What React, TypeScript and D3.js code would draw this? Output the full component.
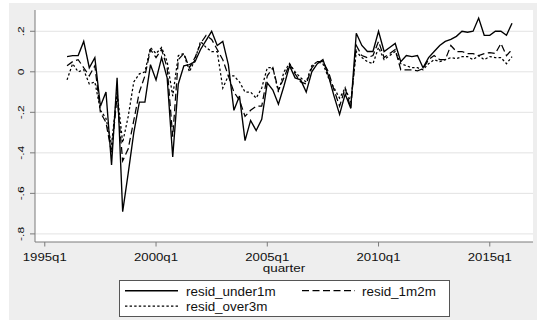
import React from "react";
import * as d3 from "d3";

// Quarterly residuals, 1996q1 .. 2016q1 (81 quarters)
const startYear = 1996;
const quarters: string[] = d3.range(81).map(
  (i) => `${startYear + Math.floor(i / 4)}q${(i % 4) + 1}`
);

const residUnder1m: number[] = [
  0.075, 0.08, 0.08, 0.15, 0.02, 0.07, -0.17, -0.1, -0.46, -0.03, -0.69, -0.5,
  -0.3, -0.15, -0.15, 0.035, -0.04, 0.07, -0.03, -0.42, -0.06, 0.03, 0.035,
  0.05, 0.11, 0.155, 0.2, 0.13, 0.15, 0.035, -0.19, -0.12, -0.34, -0.24,
  -0.29, -0.235, -0.055, -0.09, -0.16, -0.07, 0.03, -0.03, -0.04, -0.1, 0.0,
  0.04, 0.06, -0.02, -0.12, -0.21, -0.11, -0.18, 0.19, 0.13, 0.1, 0.1, 0.2,
  0.1, 0.12, 0.14, 0.05, 0.08, 0.075, 0.08, 0.02, 0.07, 0.1, 0.13, 0.15, 0.16,
  0.175, 0.2, 0.195, 0.2, 0.265, 0.18, 0.18, 0.2, 0.2, 0.18, 0.24,
];

const resid1m2m: number[] = [
  0.03, 0.05, 0.06, 0.02, -0.02, 0.03, -0.2, -0.25, -0.4, -0.12, -0.44, -0.38,
  -0.24, -0.1, -0.02, 0.11, 0.07, 0.11, 0.02, -0.32, 0.06, 0.09, 0.02, 0.07,
  0.14, 0.18, 0.16, 0.11, 0.06, -0.02, -0.1, -0.14, -0.22, -0.19, -0.17,
  -0.17, -0.02, 0.02, -0.09, -0.03, 0.04, -0.01, -0.05, -0.06, 0.02, 0.05,
  0.05, 0.0, -0.09, -0.17, -0.08, -0.18, 0.13, 0.08, 0.07, 0.08, 0.15, 0.07,
  0.09, 0.11, 0.01, 0.01, 0.01, 0.005, 0.015, 0.06, 0.08, 0.06, 0.06, 0.13,
  0.1, 0.1, 0.09, 0.09, 0.08, 0.09, 0.095, 0.09, 0.14, 0.08, 0.11,
];

const residOver3m: number[] = [
  -0.04, 0.04, 0.0, 0.01, -0.06, -0.05, -0.19, -0.23, -0.36, -0.1, -0.35,
  -0.22, -0.05, -0.01, 0.0, 0.12, 0.09, 0.12, 0.05, -0.12, 0.08, 0.09, 0.0,
  0.06, 0.15, 0.12, 0.1, 0.1, -0.08, -0.02, -0.02, -0.05, -0.1, -0.1, -0.13,
  -0.08, 0.02, 0.02, -0.1, 0.0, 0.04, 0.0, -0.03, -0.05, 0.03, 0.05, 0.04,
  -0.03, -0.08, -0.13, -0.08, -0.15, 0.1, 0.07, 0.05, 0.04, 0.12, 0.06, 0.08,
  0.1, 0.04, 0.03, 0.02, 0.02, 0.01, 0.04, 0.06, 0.05, 0.06, 0.07, 0.065,
  0.075, 0.075, 0.06, 0.08, 0.06, 0.075, 0.07, 0.07, 0.04, 0.075,
];

const yTicks: number[] = [-0.8, -0.6, -0.4, -0.2, 0, 0.2];
const yTickLabels: string[] = ["-.8", "-.6", "-.4", "-.2", "0", ".2"];
const xTickLabels: string[] = ["1995q1", "2000q1", "2005q1", "2010q1", "2015q1"];

const seriesNames: string[] = ["resid_under1m", "resid_1m2m", "resid_over3m"];

// quarter index measured from 1995q1
const qIndex = (label: string) => {
  const [y, q] = label.split("q").map(Number);
  return (y - 1995) * 4 + (q - 1);
};

const FONT = "'Liberation Sans', Arial, Helvetica, sans-serif";

export default function App() {
  const W = 537;
  const H = 321;
  const plot = { left: 35, right: 533, top: 10, bottom: 242 };

  const x = d3
    .scaleLinear()
    .domain([qIndex("1995q1") - 1.76, qIndex("2016q4") + 0.77])
    .range([plot.left, plot.right]);
  const y = d3
    .scaleLinear()
    .domain([-0.84, 0.305])
    .range([plot.bottom, plot.top]);

  const line = d3
    .line<[number, number]>()
    .x((d) => x(d[0]))
    .y((d) => y(d[1]));

  const mk = (vals: number[]) =>
    line(vals.map((v, i) => [qIndex(quarters[i]), v] as [number, number])) || "";

  const styles = [
    { dash: undefined as string | undefined, width: 1.35 },
    { dash: "7,3.5", width: 1.25 },
    { dash: "2.4,2.2", width: 1.25 },
  ];
  const series = [residUnder1m, resid1m2m, residOver3m];

  const legendItems = [
    { i: 0, lx: 125, tx: 186, ly: 290.7, ty: 296 },
    { i: 1, lx: 302, tx: 362, ly: 290.7, ty: 296 },
    { i: 2, lx: 125, tx: 186, ly: 306, ty: 311 },
  ];

  return (
    <svg
      width={W}
      height={H}
      style={{ position: "absolute", left: 0, top: 0, fontFamily: FONT }}
    >
      <rect x={0} y={0} width={W} height={H} fill="#ffffff" />
      <rect x={9} y={3} width={W - 9} height={317} fill="#eeeeee" />
      <rect
        x={plot.left}
        y={plot.top}
        width={plot.right - plot.left}
        height={plot.bottom - plot.top}
        fill="#ffffff"
      />

      {/* horizontal grid */}
      {yTicks.map((t) => (
        <line
          key={`g${t}`}
          x1={plot.left}
          x2={plot.right}
          y1={y(t)}
          y2={y(t)}
          stroke="#e3e3e3"
          strokeWidth={1}
        />
      ))}

      {/* series */}
      {series.map((vals, k) => (
        <path
          key={seriesNames[k]}
          d={mk(vals)}
          fill="none"
          stroke="#000"
          strokeWidth={styles[k].width}
          strokeDasharray={styles[k].dash}
          strokeLinejoin="miter"
        />
      ))}

      {/* axes */}
      <line
        x1={plot.left}
        x2={plot.left}
        y1={plot.top}
        y2={plot.bottom}
        stroke="#7a7a7a"
        strokeWidth={1}
      />
      <line
        x1={plot.left}
        x2={plot.right}
        y1={plot.bottom}
        y2={plot.bottom}
        stroke="#7a7a7a"
        strokeWidth={1}
      />
      {yTicks.map((t, i) => (
        <g key={`yt${t}`}>
          <line
            x1={plot.left - 5}
            x2={plot.left}
            y1={y(t)}
            y2={y(t)}
            stroke="#7a7a7a"
          />
          <text
            transform={`translate(24.3,${y(t)}) rotate(-90) scale(1,0.72)`}
            textAnchor="middle"
            fontSize={12}
            fill="#111"
          >
            {yTickLabels[i]}
          </text>
        </g>
      ))}
      {xTickLabels.map((lab) => {
        const xv = x(qIndex(lab));
        return (
          <g key={lab}>
            <line
              x1={xv}
              x2={xv}
              y1={plot.bottom}
              y2={plot.bottom + 4.5}
              stroke="#7a7a7a"
            />
            <text
              transform={`translate(${xv},260.5) scale(1.1,0.88)`}
              textAnchor="middle"
              fontSize={12}
              fill="#111"
            >
              {lab}
            </text>
          </g>
        );
      })}
      <text
        transform={`translate(${(plot.left + plot.right) / 2},272) scale(1.12,0.88)`}
        textAnchor="middle"
        fontSize={12}
        fill="#111"
      >
        quarter
      </text>

      {/* legend */}
      <rect
        x={119.5}
        y={280.5}
        width={330}
        height={36}
        fill="#ffffff"
        stroke="#555"
        strokeWidth={1}
      />
      {legendItems.map((it) => (
        <g key={`lg${it.i}`}>
          <line
            x1={it.lx}
            x2={it.lx + 53}
            y1={it.ly}
            y2={it.ly}
            stroke="#000"
            strokeWidth={styles[it.i].width}
            strokeDasharray={styles[it.i].dash}
          />
          <text
            transform={`translate(${it.tx},${it.ty}) scale(1.12,1)`}
            fontSize={12}
            fill="#111"
          >
            {seriesNames[it.i]}
          </text>
        </g>
      ))}
    </svg>
  );
}
